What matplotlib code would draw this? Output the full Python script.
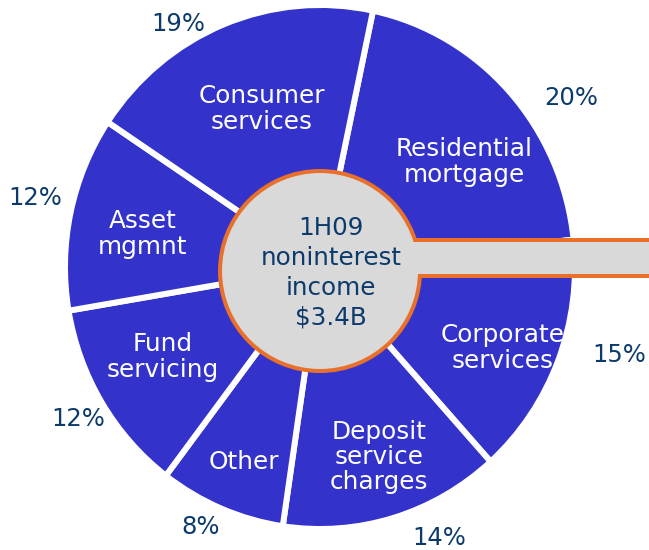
import matplotlib
matplotlib.use("Agg")
import matplotlib.pyplot as plt
from matplotlib.patches import Circle

# data
categories = ["Residential\nmortgage", "Corporate\nservices", "Deposit\nservice\ncharges",
              "Other", "Fund\nservicing", "Asset\nmgmnt", "Consumer\nservices"]
shares = [20, 15, 14, 8, 12, 12, 19]
pct_labels = [str(s) + "%" for s in shares]
center_text = "1H09\nnoninterest\nincome\n$3.4B"

# layout (pixel positions, y measured from top)
name_pos = [(464, 162), (503, 348), (379, 457), (244, 462), (163, 357), (143, 234), (262, 109)]
pct_pos = [(571, 98), (619, 355), (439, 538), (201, 527), (78, 419), (35, 198), (178, 24)]

W, H = 649, 550
blue = "#3333CC"
grey = "#D9D9D9"
orange = "#E8702A"
navy = "#0B3A6B"

fig = plt.figure(figsize=(W / 100, H / 100), dpi=100)

# pie sits in its own axes so it can be stretched slightly vertically
left, top, right, bottom = 65, 5, 575, 529
axp = fig.add_axes([left / W, (H - bottom) / H, (right - left) / W, (bottom - top) / H])
axp.pie(shares, startangle=78, counterclock=False, colors=[blue] * len(shares),
        wedgeprops=dict(edgecolor="white", linewidth=4.3))
axp.set_aspect("auto")
axp.set_xlim(-1, 1)
axp.set_ylim(-1, 1)
axp.axis("off")

# overlay in pixel coords
ax = fig.add_axes([0, 0, 1, 1])
ax.set_xlim(0, W)
ax.set_ylim(H, 0)
ax.axis("off")
ax.patch.set_visible(False)

cx, cy, r = 320, 271, 100
bar_y, bar_h = 258, 36
edge_pt = 2.9

ax.barh(bar_y, W + 10 - cx, left=cx, height=bar_h, color=grey, edgecolor=orange, linewidth=edge_pt, zorder=3)
ax.add_patch(Circle((cx, cy), r, facecolor=grey, edgecolor=orange, linewidth=edge_pt, zorder=4))
ax.barh(bar_y, W + 10 - cx, left=cx, height=bar_h - 4, color=grey, linewidth=0, zorder=5)

for name, (x, y) in zip(categories, name_pos):
    ax.text(x, y, name, color="white", fontsize=17.8, ha="center", va="center",
            linespacing=1.07, zorder=6)

for p, (x, y) in zip(pct_labels, pct_pos):
    ax.text(x, y, p, color=navy, fontsize=17.5, ha="center", va="center", zorder=6)

ax.text(331, 273, center_text, color=navy, fontsize=17.7, ha="center", va="center",
        linespacing=1.3, zorder=6)

fig.savefig("out.png", dpi=100)
